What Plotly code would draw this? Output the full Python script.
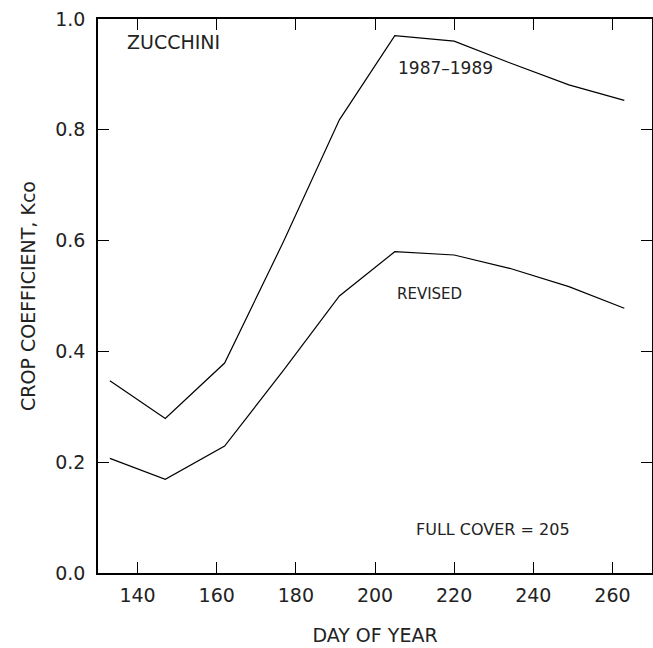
import plotly.graph_objects as go

# Day of year for each seasonal estimate
days = [133, 147, 162, 177, 191, 205, 220, 234, 249, 263]
# Crop coefficient, 1987-1989 curve
kco_1987_1989 = [0.347, 0.279, 0.379, 0.60, 0.818, 0.970, 0.960, 0.921, 0.881, 0.853]
# Crop coefficient, revised curve
kco_revised = [0.207, 0.169, 0.229, 0.367, 0.500, 0.580, 0.574, 0.550, 0.517, 0.478]

x_ticks = [140, 160, 180, 200, 220, 240, 260]
y_ticks = [0.0, 0.2, 0.4, 0.6, 0.8, 1.0]

FONT = "DejaVu Sans"
INK = "#222"

fig = go.Figure()
fig.add_trace(go.Scatter(x=days, y=kco_1987_1989, mode="lines",
                         line=dict(color="black", width=1.2), name="1987-1989"))
fig.add_trace(go.Scatter(x=days, y=kco_revised, mode="lines",
                         line=dict(color="black", width=1.2), name="REVISED"))

axis_common = dict(
    showgrid=False, zeroline=False, showline=True, linecolor="black", linewidth=1.5,
    ticks="inside", ticklen=11, tickwidth=1.3, tickcolor="black", mirror="ticks",
    tickfont=dict(family=FONT, size=19, color=INK),
)

fig.update_xaxes(range=[130, 270], tickvals=x_ticks, ticktext=[str(v) for v in x_ticks],
                 ticklabelstandoff=4,
                 title=dict(text="DAY OF YEAR", font=dict(family=FONT, size=19, color=INK),
                            standoff=24),
                 **axis_common)
fig.update_yaxes(range=[0, 1], tickvals=y_ticks, ticktext=[f"{v:.1f}" for v in y_ticks],
                 ticklabelstandoff=7,
                 title=dict(text="CROP COEFFICIENT, Kco", font=dict(family=FONT, size=19, color=INK),
                            standoff=15),
                 **axis_common)

notes = [
    dict(text="ZUCCHINI", x=136.8, y=0.958, xanchor="left", size=19),
    dict(text="1987\u20131989", x=217.9, y=0.912, xanchor="center", size=17),
    dict(text="REVISED", x=213.8, y=0.504, xanchor="center", size=15),
    dict(text="FULL COVER = 205", x=229.7, y=0.078, xanchor="center", size=16),
]
for n in notes:
    fig.add_annotation(x=n["x"], y=n["y"], xref="x", yref="y", text=n["text"],
                       showarrow=False, xanchor=n["xanchor"], yanchor="middle",
                       font=dict(family=FONT, size=n["size"], color=INK))

fig.update_layout(
    width=653, height=648,
    margin=dict(l=98, r=1, t=19, b=75, autoexpand=False),
    paper_bgcolor="white", plot_bgcolor="white",
    showlegend=False,
)

fig.write_html("out.html")
